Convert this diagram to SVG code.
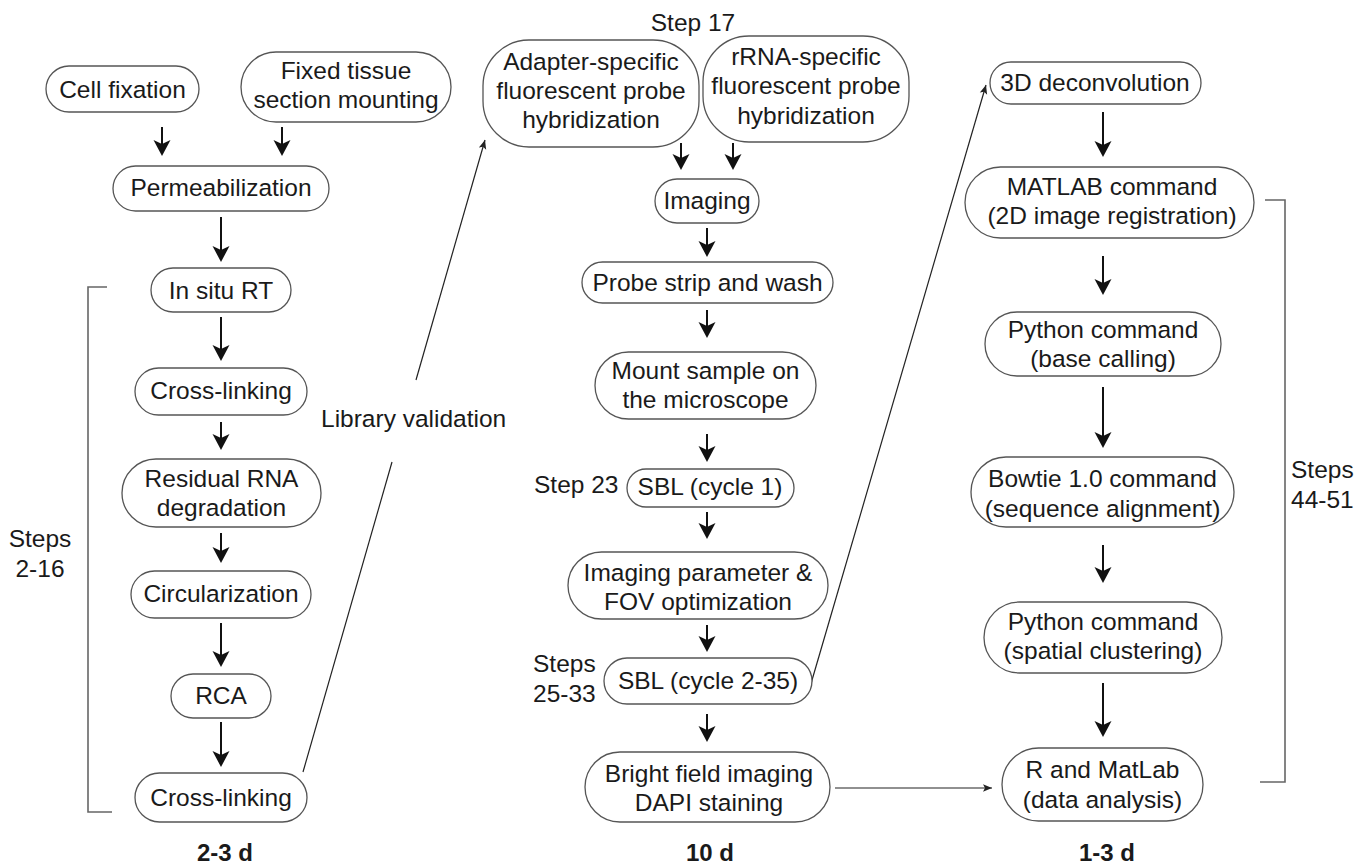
<svg xmlns="http://www.w3.org/2000/svg" width="1356" height="865" viewBox="0 0 1356 865">
<style>
.n rect{fill:#fff;stroke:#555;stroke-width:1.3}
text{font-family:"Liberation Sans",Arial,sans-serif;font-size:24.5px;fill:#1a1a1a}
.c{text-anchor:middle}
.b{font-weight:bold;font-size:24px}
.a{stroke:#111;stroke-width:2;fill:none}
.t{stroke:#222;stroke-width:1.2;fill:none}
.br{stroke:#666;stroke-width:1.6;fill:none}
</style>
<defs>
<marker id="ah" markerUnits="userSpaceOnUse" orient="auto" markerWidth="30" markerHeight="30" refX="0" refY="0" overflow="visible">
<path d="M11,0 L-5,-8.5 L-1,0 L-5,8.5 Z" fill="#111"/>
</marker>
<marker id="as" markerUnits="userSpaceOnUse" orient="auto" markerWidth="20" markerHeight="20" refX="0" refY="0" overflow="visible">
<path d="M0,0 L-9,-3.8 L-7,0 L-9,3.8 Z" fill="#222"/>
</marker>
</defs>
<rect width="1356" height="865" fill="#fff"/>

<g id="connectors">
<line class="a" x1="162" y1="127" x2="162" y2="145" marker-end="url(#ah)"/>
<line class="a" x1="282" y1="127" x2="282" y2="145" marker-end="url(#ah)"/>
<line class="a" x1="221" y1="217" x2="221" y2="251" marker-end="url(#ah)"/>
<line class="a" x1="221" y1="317" x2="221" y2="350" marker-end="url(#ah)"/>
<line class="a" x1="221" y1="422" x2="221" y2="439" marker-end="url(#ah)"/>
<line class="a" x1="221" y1="533" x2="221" y2="552" marker-end="url(#ah)"/>
<line class="a" x1="221" y1="623" x2="221" y2="656" marker-end="url(#ah)"/>
<line class="a" x1="221" y1="722" x2="221" y2="756" marker-end="url(#ah)"/>

<line class="t" x1="303" y1="772" x2="392" y2="462"/>
<line class="t" x1="416" y1="380" x2="485" y2="140" marker-end="url(#as)"/>

<line class="a" x1="681" y1="143" x2="681" y2="159" marker-end="url(#ah)"/>
<line class="a" x1="733" y1="143" x2="733" y2="159" marker-end="url(#ah)"/>
<line class="a" x1="707" y1="228" x2="707" y2="246" marker-end="url(#ah)"/>
<line class="a" x1="707" y1="310" x2="707" y2="327" marker-end="url(#ah)"/>
<line class="a" x1="707" y1="434" x2="707" y2="451" marker-end="url(#ah)"/>
<line class="a" x1="707" y1="512" x2="707" y2="528" marker-end="url(#ah)"/>
<line class="a" x1="707" y1="625" x2="707" y2="641" marker-end="url(#ah)"/>
<line class="a" x1="707" y1="714" x2="707" y2="731" marker-end="url(#ah)"/>

<line class="t" x1="810" y1="687" x2="986" y2="85" marker-end="url(#as)"/>
<line class="t" x1="835" y1="788" x2="992" y2="788" marker-end="url(#as)"/>

<line class="a" x1="1103" y1="112" x2="1103" y2="146" marker-end="url(#ah)"/>
<line class="a" x1="1103" y1="256" x2="1103" y2="284" marker-end="url(#ah)"/>
<line class="a" x1="1103" y1="387" x2="1103" y2="437" marker-end="url(#ah)"/>
<line class="a" x1="1103" y1="545" x2="1103" y2="572" marker-end="url(#ah)"/>
<line class="a" x1="1103" y1="683" x2="1103" y2="726" marker-end="url(#ah)"/>

<path class="br" d="M107,287 H88 V812 H112"/>
<path class="br" d="M1265,200 H1285 V782 H1260"/>
</g>

<g id="n-cellfix" class="n"><rect x="46" y="66" width="153" height="46" rx="23"/><text class="c" x="122.5" y="98">Cell fixation</text></g>
<g id="n-tissue" class="n"><rect x="241" y="52" width="210" height="70" rx="35"/><text class="c" x="346" y="79">Fixed tissue</text><text class="c" x="346" y="108">section mounting</text></g>
<g id="n-perm" class="n"><rect x="113" y="166" width="216" height="45" rx="22.5"/><text class="c" x="221" y="196">Permeabilization</text></g>
<g id="n-rt" class="n"><rect x="151" y="268" width="140" height="44" rx="22"/><text class="c" x="221" y="299">In situ RT</text></g>
<g id="n-cross1" class="n"><rect x="135" y="368" width="172" height="47" rx="23.5"/><text class="c" x="221" y="399">Cross-linking</text></g>
<g id="n-resid" class="n"><rect x="122" y="459" width="199" height="68" rx="34"/><text class="c" x="221.5" y="487">Residual RNA</text><text class="c" x="221.5" y="516">degradation</text></g>
<g id="n-circ" class="n"><rect x="131" y="571" width="180" height="47" rx="23.5"/><text class="c" x="221" y="602">Circularization</text></g>
<g id="n-rca" class="n"><rect x="171" y="674" width="100" height="44" rx="22"/><text class="c" x="221" y="704">RCA</text></g>
<g id="n-cross2" class="n"><rect x="135" y="773" width="172" height="49" rx="24.5"/><text class="c" x="221" y="806">Cross-linking</text></g>

<g id="lbl-left"><text class="c" x="40" y="547">Steps</text><text class="c" x="40" y="577">2-16</text><text x="321" y="427">Library validation</text><text class="c b" x="225" y="861">2-3 d</text></g>

<g id="n-adapter" class="n"><rect x="483" y="40" width="216" height="107" rx="46"/><text class="c" x="591" y="70">Adapter-specific</text><text class="c" x="591" y="99">fluorescent probe</text><text class="c" x="591" y="128">hybridization</text></g>
<g id="n-rrna" class="n"><rect x="703" y="36" width="206" height="106" rx="46"/><text class="c" x="806" y="65">rRNA-specific</text><text class="c" x="806" y="94">fluorescent probe</text><text class="c" x="806" y="124">hybridization</text></g>
<g id="n-imaging" class="n"><rect x="655" y="179" width="104" height="44" rx="22"/><text class="c" x="707" y="209">Imaging</text></g>
<g id="n-strip" class="n"><rect x="582" y="262" width="251" height="41" rx="20.5"/><text class="c" x="707.5" y="291">Probe strip and wash</text></g>
<g id="n-mount" class="n"><rect x="595" y="352" width="221" height="67" rx="33.5"/><text class="c" x="705.5" y="379">Mount sample on</text><text class="c" x="705.5" y="408">the microscope</text></g>
<g id="n-sbl1" class="n"><rect x="627" y="469" width="167" height="38" rx="19"/><text class="c" x="710" y="495">SBL (cycle 1)</text></g>
<g id="n-param" class="n"><rect x="568" y="552" width="260" height="67" rx="33.5"/><text class="c" x="698" y="581">Imaging parameter &amp;</text><text class="c" x="698" y="610">FOV optimization</text></g>
<g id="n-sbl2" class="n"><rect x="604" y="658" width="208" height="46" rx="23"/><text class="c" x="708" y="689">SBL (cycle 2-35)</text></g>
<g id="n-bright" class="n"><rect x="585" y="752" width="245" height="70" rx="35"/><text class="c" x="709" y="782">Bright field imaging</text><text class="c" x="709" y="811">DAPI staining</text></g>

<g id="lbl-mid"><text class="c" x="693" y="31">Step 17</text><text x="534" y="493">Step 23</text><text x="533" y="672">Steps</text><text x="533" y="702">25-33</text><text class="c b" x="710" y="861">10 d</text></g>

<g id="n-deconv" class="n"><rect x="990" y="62" width="211" height="42" rx="21"/><text class="c" x="1095" y="91">3D deconvolution</text></g>
<g id="n-matlab" class="n"><rect x="965" y="167" width="289" height="71" rx="35.5"/><text class="c" x="1112" y="195">MATLAB command</text><text class="c" x="1112" y="224">(2D image registration)</text></g>
<g id="n-pybase" class="n"><rect x="985" y="312" width="236" height="64" rx="32"/><text class="c" x="1103" y="338">Python command</text><text class="c" x="1103" y="367">(base calling)</text></g>
<g id="n-bowtie" class="n"><rect x="971" y="457" width="263" height="70" rx="35"/><text class="c" x="1102.5" y="487">Bowtie 1.0 command</text><text class="c" x="1102.5" y="517">(sequence alignment)</text></g>
<g id="n-pyspatial" class="n"><rect x="984" y="602" width="238" height="71" rx="35.5"/><text class="c" x="1103" y="630">Python command</text><text class="c" x="1103" y="659">(spatial clustering)</text></g>
<g id="n-r" class="n"><rect x="1002" y="748" width="201" height="73" rx="36.5"/><text class="c" x="1102.5" y="778">R and MatLab</text><text class="c" x="1102.5" y="808">(data analysis)</text></g>

<g id="lbl-right"><text x="1291" y="478">Steps</text><text x="1291" y="508">44-51</text><text class="c b" x="1107" y="861">1-3 d</text></g>
</svg>
